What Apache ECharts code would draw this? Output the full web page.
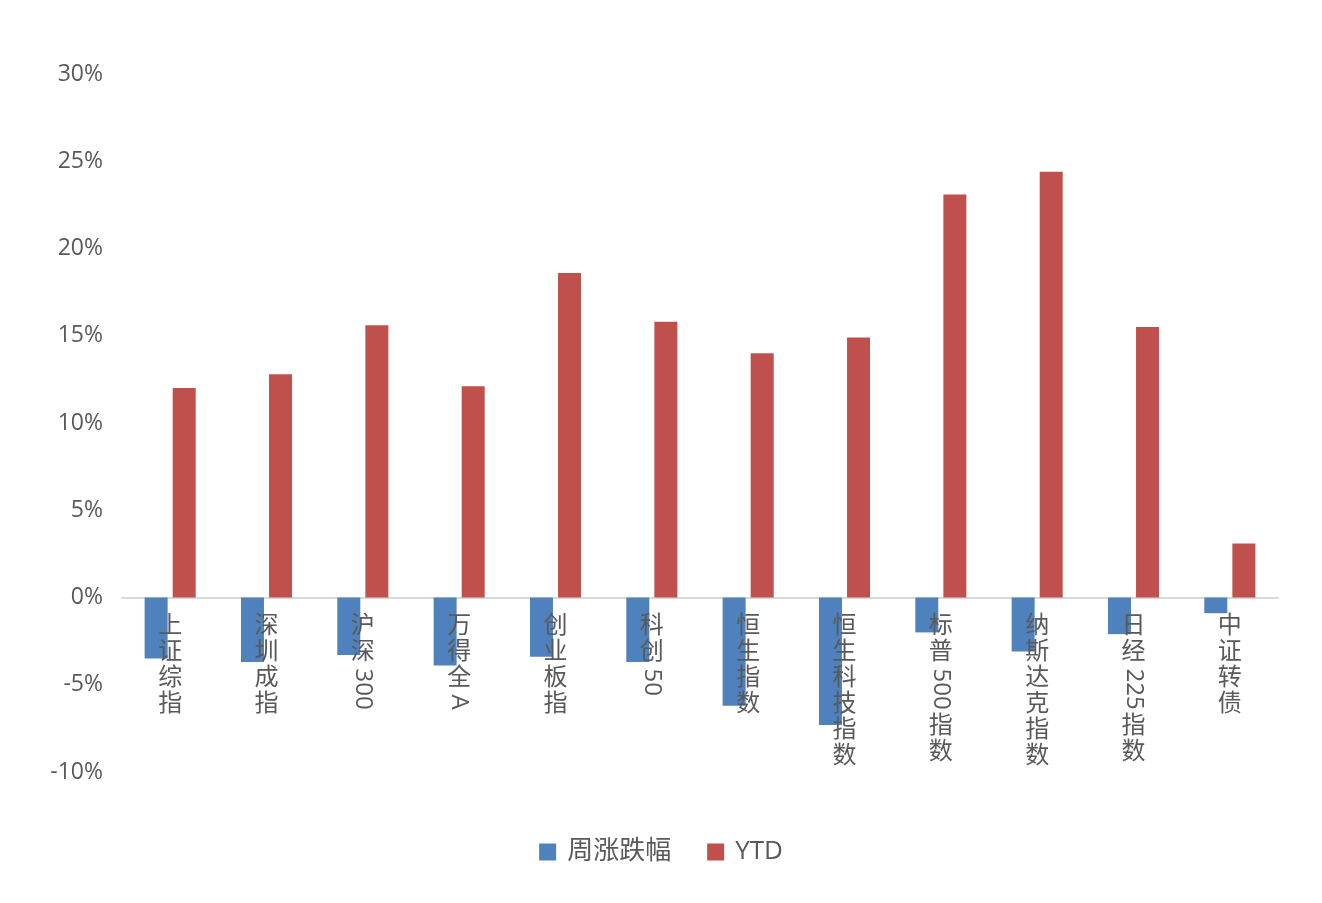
<!DOCTYPE html>
<html>
<head>
<meta charset="utf-8">
<title>周涨跌幅与YTD</title>
<script src="https://cdn.jsdelivr.net/npm/echarts@6.0.0/dist/echarts.min.js"></script>
<style>
    html, body {margin:0; padding:0; background:#fff;}
    #chart {width:1322px; height:903px;}
</style>
</head>
<body>
<div id="chart"></div>
<script>
const categories = ['上证综指', '深圳成指', '沪深300', '万得全A', '创业板指', '科创50',
    '恒生指数', '恒生科技指数', '标普500指数', '纳斯达克指数', '日经225指数', '中证转债']
// 周涨跌幅 (%)
const weekly = [-3.5, -3.7, -3.3, -3.9, -3.4, -3.7, -6.2, -7.3, -2.0, -3.1, -2.1, -0.9]
// 年初至今 (%)
const ytd = [12.0, 12.8, 15.6, 12.1, 18.6, 15.8, 14.0, 14.9, 23.1, 24.4, 15.5, 3.1]
const yMin = -10, yMax = 30, yStep = 5

const textColor = '#595959'
const fontFamily = '"Open Sans", "Noto Sans CJK SC", sans-serif'
const labelSize = 24

const chart = echarts.init(document.getElementById('chart'))

const option = {
    animation: false,
    color: ['#4F81BD', '#C0504D'],
    grid: {left: 122, right: 44, top: 74, bottom: 131},
    legend: {
        data: ['周涨跌幅', 'YTD'],
        bottom: 33,
        left: 'center',
        icon: 'rect',
        itemWidth: 17,
        itemHeight: 17,
        itemGap: 36,
        textStyle: {color: textColor, fontSize: 26, fontFamily: fontFamily, padding: [0, 0, 0, 6]}
    },
    xAxis: {
        type: 'category',
        data: categories,
        axisLine: {onZero: true, lineStyle: {color: '#d9d9d9', width: 2}},
        axisTick: {show: false},
        axisLabel: {show: false}
    },
    yAxis: {
        type: 'value',
        min: yMin,
        max: yMax,
        interval: yStep,
        axisLine: {show: false},
        axisTick: {show: false},
        splitLine: {show: false},
        axisLabel: {
            color: textColor,
            fontSize: 23,
            fontFamily: fontFamily,
            margin: 19,
            formatter: v => v + '%'
        }
    },
    series: [
        {name: '周涨跌幅', type: 'bar', data: weekly, barWidth: 23, barGap: '22%'},
        {name: 'YTD', type: 'bar', data: ytd, barWidth: 23, barGap: '22%'}
    ]
}
chart.setOption(option)

// 竖排的类目标签: 汉字逐字竖排, 字母数字整体顺时针旋转
const ctx = document.createElement('canvas').getContext('2d')
ctx.font = labelSize + 'px ' + fontFamily

function splitRuns(s){
    const runs = []
    let buf = ''
    for (const ch of s) {
        if (/[A-Za-z0-9]/.test(ch)) {
            buf += ch
        } else {
            if (buf) { runs.push({ascii: true, text: buf}); buf = '' }
            runs.push({ascii: false, text: ch})
        }
    }
    if (buf) runs.push({ascii: true, text: buf})
    return runs
}

const y0 = chart.convertToPixel({yAxisIndex: 0}, 0)
const elements = []
categories.forEach((name, i) => {
    const x = chart.convertToPixel({xAxisIndex: 0}, i)
    let cursor = y0 + 16
    splitRuns(name).forEach(run => {
        if (run.ascii) {
            const w = ctx.measureText(run.text).width
            elements.push({
                type: 'text',
                x: x,
                y: cursor + w / 2 + 3,
                z: 100,
                rotation: -Math.PI / 2,
                style: {
                    text: run.text, fill: textColor, font: labelSize + 'px ' + fontFamily,
                    align: 'center', verticalAlign: 'middle'
                }
            })
            cursor += w + 6
        } else {
            elements.push({
                type: 'text',
                x: x,
                y: cursor + 13,
                z: 100,
                style: {
                    text: run.text, fill: textColor, font: labelSize + 'px ' + fontFamily,
                    align: 'center', verticalAlign: 'middle'
                }
            })
            cursor += 26
        }
    })
})
chart.setOption({graphic: {elements: elements}})
</script>
</body>
</html>
